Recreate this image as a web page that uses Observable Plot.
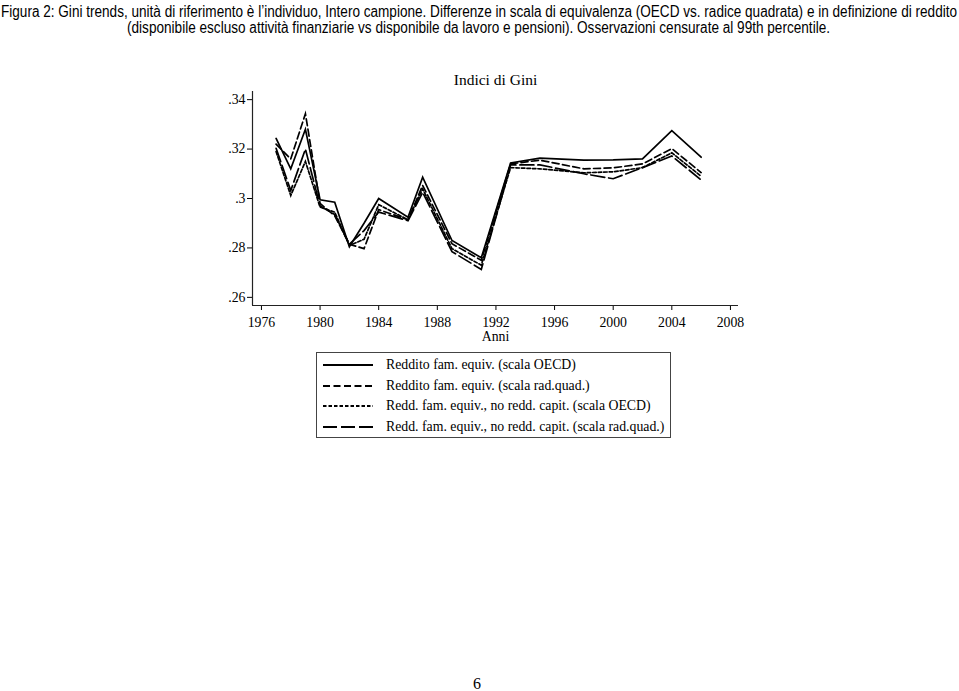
<!DOCTYPE html>
<html>
<head>
<meta charset="utf-8">
<script src="https://cdn.jsdelivr.net/npm/d3@7"></script>
<script src="https://cdn.jsdelivr.net/npm/@observablehq/plot@0.6"></script>
<style>
  html, body { margin: 0; padding: 0; background: white; }
  body { width: 959px; height: 691px; position: relative; overflow: hidden; }
  .cap { position: absolute; left: 0; transform-origin: 0 0;
         font-family: "Liberation Sans Narrow", "Liberation Sans", Arial, sans-serif;
         font-size: 16px; line-height: 16px; color: #000; white-space: nowrap; }
  #chart { position: absolute; top: 40px; left: 0; }
  #legend { position: absolute; left: 316px; top: 352px; width: 353px; height: 84px;
            border: 1px solid #444; font-family: "Liberation Serif", serif; font-size: 13.8px; }
  .row { position: absolute; left: 0; height: 20px; width: 100%; }
  .row svg { position: absolute; left: 6px; top: 4px; }
  .row span { position: absolute; left: 69px; top: 2px; white-space: nowrap; }
  #page { position: absolute; left: 473px; top: 675px; font-family: "Liberation Serif", serif; font-size: 16px; }
</style>
</head>
<body>
<span class="cap" id="cap1" style="top:4px">Figura 2: Gini trends, unità di riferimento è l’individuo, Intero campione. Differenze in scala di equivalenza (OECD vs. radice quadrata) e in definizione di reddito</span>
<span class="cap" id="cap2" style="top:20px">(disponibile escluso attività finanziarie vs disponibile da lavoro e pensioni). Osservazioni censurate al 99th percentile.</span>
<div id="chart"></div>
<div id="legend"></div>
<div id="page">6</div>
<script>
const years = [1977,1978,1979,1980,1981,1982,1983,1984,1986,1987,1989,1991,1993,1995,1998,2000,2002,2004,2006];
const redditoOecd   = [0.3243,0.3120,0.3280,0.2995,0.2985,0.2805,0.2900,0.3000,0.2924,0.3086,0.2830,0.2760,0.3144,0.3163,0.3155,0.3156,0.3160,0.3275,0.3167];
const redditoRadq   = [0.3220,0.3160,0.3343,0.2980,0.2930,0.2815,0.2797,0.2955,0.2914,0.3053,0.2817,0.2750,0.3140,0.3155,0.3120,0.3124,0.3140,0.3202,0.3105];
const noCapitOecd   = [0.3190,0.3012,0.3150,0.2965,0.2945,0.2810,0.2835,0.2975,0.2914,0.3039,0.2797,0.2730,0.3125,0.3120,0.3104,0.3108,0.3125,0.3185,0.3090];
const noCapitRadq   = [0.3203,0.3032,0.3200,0.2970,0.2935,0.2815,0.2870,0.2945,0.2910,0.3025,0.2785,0.2713,0.3136,0.3136,0.3100,0.3080,0.3125,0.3172,0.3075];
const seriesNames = [
  "Reddito fam. equiv. (scala OECD)",
  "Reddito fam. equiv. (scala rad.quad.)",
  "Redd. fam. equiv., no redd. capit. (scala OECD)",
  "Redd. fam. equiv., no redd. capit. (scala rad.quad.)"
];
const seriesValues = [redditoOecd, redditoRadq, noCapitOecd, noCapitRadq];
const dashes = [null, "7,3.5", "3.5,2", "14,4"];
const xTicks = [1976,1980,1984,1988,1992,1996,2000,2004,2008];
const yTicks = [0.26,0.28,0.30,0.32,0.34];
const xDomain = [1975.39, 2008.55];
const yDomain = [0.2567, 0.3433];

// condense caption lines to the reference extents
[["cap1", 1, 956], ["cap2", 127, 703]].forEach(([id, left, w]) => {
  const el = document.getElementById(id);
  const nat = el.getBoundingClientRect().width;
  el.style.left = left + "px";
  el.style.transform = `scaleX(${w / nat})`;
});

const lineMarks = seriesValues.map((vals, i) =>
  Plot.line(years.map((yr, j) => ({year: yr, gini: vals[j]})), {
    x: "year", y: "gini", stroke: "black", strokeWidth: 1.7,
    strokeDasharray: dashes[i] || undefined, strokeLinejoin: "miter", strokeMiterlimit: 10
  })
);

const chart = Plot.plot({
  width: 959, height: 310,
  marginLeft: 252, marginRight: 221, marginTop: 51, marginBottom: 45,
  style: {fontFamily: "Liberation Serif, serif", fontSize: "13.8px", background: "white", color: "black"},
  x: {domain: xDomain, ticks: xTicks, tickFormat: d => String(d), tickSize: 5, tickPadding: 7, label: null},
  y: {domain: yDomain, ticks: yTicks, tickFormat: d => String(+d.toFixed(2)).replace(/^0/, ""), tickSize: 5, tickPadding: 2, label: null},
  marks: [
    Plot.ruleX([xDomain[0]], {stroke: "#222", strokeWidth: 1.2}),
    Plot.ruleY([yDomain[0]], {stroke: "#222", strokeWidth: 1.2}),
    ...lineMarks,
    Plot.text(["Indici di Gini"], {text: d => d, frameAnchor: "top", lineAnchor: "middle", dy: -11, fontSize: 15.5}),
    Plot.text(["Anni"], {text: d => d, frameAnchor: "bottom", lineAnchor: "middle", dy: 31.5, fontSize: 13.8})
  ]
});
document.getElementById("chart").appendChild(chart);

const legend = document.getElementById("legend");
const rowTops = [2, 23, 43, 64];
seriesNames.forEach((name, i) => {
  const row = document.createElement("div");
  row.className = "row";
  row.style.top = rowTops[i] + "px";
  const dash = dashes[i] ? ` stroke-dasharray="${dashes[i]}"` : "";
  row.innerHTML = `<svg width="52" height="12"><line x1="0" y1="6" x2="50" y2="6" stroke="black" stroke-width="1.8"${dash}/></svg><span>${name}</span>`;
  legend.appendChild(row);
});
</script>
</body>
</html>
